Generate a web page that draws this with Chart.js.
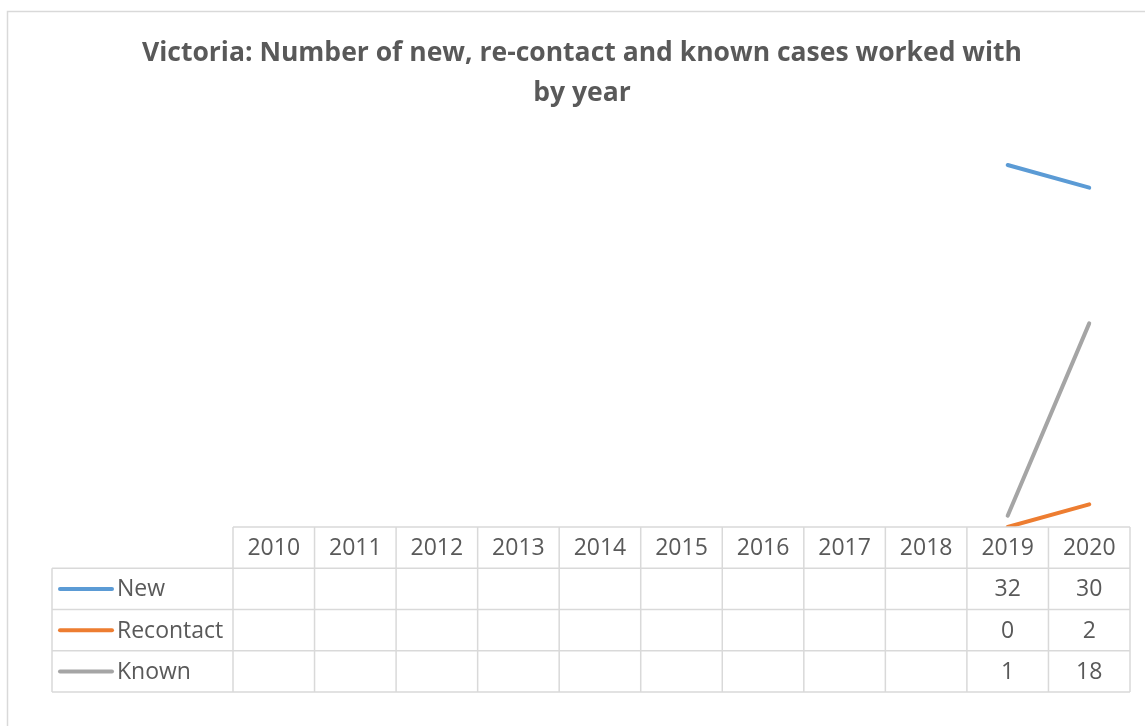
<!DOCTYPE html>
<html>
<head>
<meta charset="utf-8">
<script src="https://cdn.jsdelivr.net/npm/chart.js@4"></script>
<style>
  html, body { margin: 0; padding: 0; background: #fff; }
  #wrap { width: 1145px; height: 726px; position: relative; }
</style>
</head>
<body>
<div id="wrap"><canvas id="victoriaChart"></canvas></div>
<script>
const years = ['2010', '2011', '2012', '2013', '2014', '2015', '2016', '2017', '2018', '2019', '2020'];
const newCases = [null, null, null, null, null, null, null, null, null, 32, 30];
const recontactCases = [null, null, null, null, null, null, null, null, null, 0, 2];
const knownCases = [null, null, null, null, null, null, null, null, null, 1, 18];

const seriesNames = ['New', 'Recontact', 'Known'];
const seriesColors = ['#5b9bd5', '#ed7d31', '#a5a5a5'];

const gridColor = '#d9d9d9';
const textColor = '#595959';
const rowH = 41.25;

// draws the outer frame and the Excel-style data table under the plot
const dataTablePlugin = {
    id: 'dataTable',
    beforeDraw(chart) {
        const ctx = chart.ctx;
        ctx.save();
        ctx.fillStyle = '#fff';
        ctx.fillRect(0, 0, chart.width, chart.height);
        ctx.strokeStyle = gridColor;
        ctx.lineWidth = 1.5;
        ctx.strokeRect(7.5, 11.5, chart.width + 20, chart.height + 20);
        ctx.restore();
    },
    afterDraw(chart) {
        const ctx = chart.ctx;
        const x = chart.scales.x;
        const area = chart.chartArea;
        const colW = (area.right - area.left) / years.length;
        const top = area.bottom;
        const legendLeft = 52;
        const rows = chart.data.datasets.length;

        ctx.save();
        ctx.strokeStyle = gridColor;
        ctx.lineWidth = 1.5;
        ctx.beginPath();
        // horizontal lines
        ctx.moveTo(area.left, top);
        ctx.lineTo(area.right, top);
        for (let r = 1; r <= rows + 1; r++) {
            ctx.moveTo(legendLeft, top + r * rowH);
            ctx.lineTo(area.right, top + r * rowH);
        }
        // vertical lines
        for (let c = 0; c <= years.length; c++) {
            ctx.moveTo(area.left + c * colW, top);
            ctx.lineTo(area.left + c * colW, top + (rows + 1) * rowH);
        }
        ctx.moveTo(legendLeft, top + rowH);
        ctx.lineTo(legendLeft, top + (rows + 1) * rowH);
        ctx.stroke();

        ctx.fillStyle = textColor;
        ctx.font = '23px "Open Sans"';
        ctx.textAlign = 'center';
        ctx.textBaseline = 'middle';
        years.forEach((y, i) => {
            ctx.fillText(y, x.getPixelForValue(i), top + rowH / 2 + 1);
        });

        chart.data.datasets.forEach((ds, r) => {
            const cy = top + (r + 1) * rowH + rowH / 2 + 1;
            ds.data.forEach((v, i) => {
                if (v !== null) ctx.fillText(String(v), x.getPixelForValue(i), cy);
            });
            ctx.strokeStyle = ds.borderColor;
            ctx.lineWidth = 4;
            ctx.lineCap = 'round';
            ctx.beginPath();
            ctx.moveTo(60, cy - 1);
            ctx.lineTo(112, cy - 1);
            ctx.stroke();
            ctx.textAlign = 'left';
            ctx.fillText(ds.label, 117, cy);
            ctx.textAlign = 'center';
        });
        ctx.restore();
    }
};

new Chart(document.getElementById('victoriaChart'), {
    type: 'line',
    data: {
        labels: years,
        datasets: [
            { label: seriesNames[0], data: newCases, borderColor: seriesColors[0], backgroundColor: seriesColors[0] },
            { label: seriesNames[1], data: recontactCases, borderColor: seriesColors[1], backgroundColor: seriesColors[1] },
            { label: seriesNames[2], data: knownCases, borderColor: seriesColors[2], backgroundColor: seriesColors[2] }
        ].map(ds => Object.assign(ds, {
            borderWidth: 4,
            borderCapStyle: 'round',
            pointRadius: 0,
            pointHoverRadius: 0,
            tension: 0,
            spanGaps: false
        }))
    },
    options: {
        responsive: true,
        maintainAspectRatio: false,
        animation: false,
        layout: {
            padding: { left: 19, right: 0, top: 0, bottom: 199 }
        },
        plugins: {
            legend: { display: false },
            tooltip: { enabled: false },
            title: {
                display: true,
                text: ['Victoria: Number of new, re-contact and known cases worked with', 'by year'],
                color: textColor,
                font: { family: 'Open Sans', size: 26.5, weight: 'bold', lineHeight: 1.51 },
                padding: { top: 33, bottom: 18 }
            }
        },
        scales: {
            x: { display: false, offset: true },
            y: {
                min: 0,
                max: 35,
                ticks: { display: false },
                grid: { display: false },
                border: { display: false },
                afterFit(scale) { scale.width = 214; }
            },
            yRight: {
                position: 'right',
                min: 0,
                max: 35,
                ticks: { display: false },
                grid: { display: false },
                border: { display: false },
                afterFit(scale) { scale.width = 15; }
            }
        }
    },
    plugins: [dataTablePlugin]
});
</script>
</body>
</html>
